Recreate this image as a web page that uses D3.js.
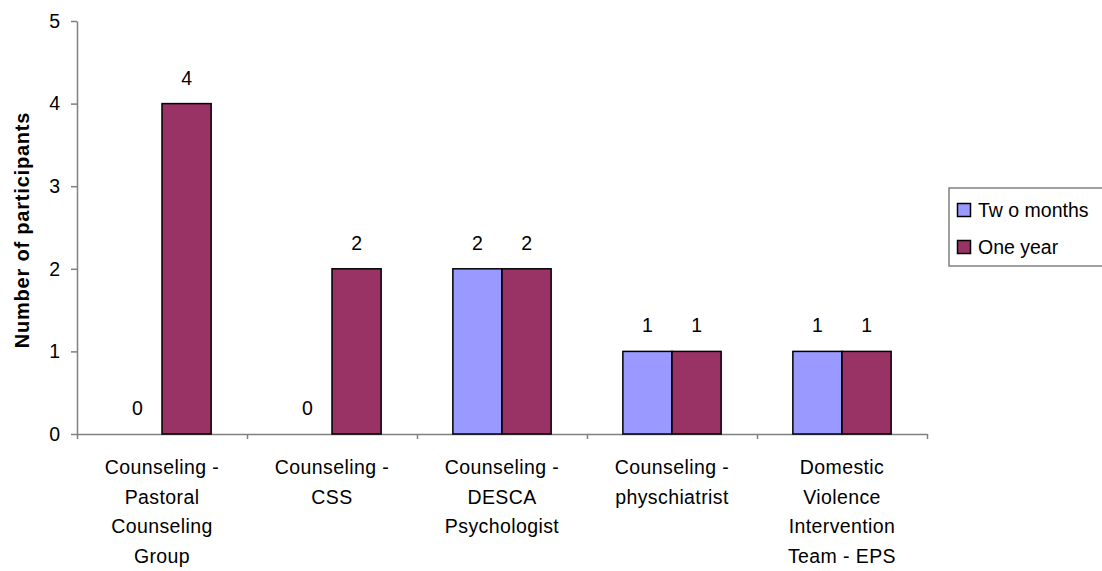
<!DOCTYPE html>
<html>
  <head>
    <script type="text/javascript" src="https://d3js.org/d3.v7.min.js"></script>
    <style>
      body { margin: 0; background: #fff; }
      svg { font-family: "Liberation Sans", Arial, sans-serif; }
    </style>
  </head>
  <body>
    <svg width="1102" height="571" id="svg1"></svg>

    <script>
      // chart data
      const categories = [
        "Counseling - Pastoral Counseling Group",
        "Counseling - CSS",
        "Counseling - DESCA Psychologist",
        "Counseling - physchiatrist",
        "Domestic Violence Intervention Team - EPS"
      ];
      const categoryLines = [
        ["Counseling -", "Pastoral", "Counseling", "Group"],
        ["Counseling -", "CSS"],
        ["Counseling -", "DESCA", "Psychologist"],
        ["Counseling -", "physchiatrist"],
        ["Domestic", "Violence", "Intervention", "Team - EPS"]
      ];
      const seriesNames = ["Tw o months", "One year"];
      const twoMonths = [0, 0, 2, 1, 1];
      const oneYear = [4, 2, 2, 1, 1];
      const yTicks = [0, 1, 2, 3, 4, 5];
      const colors = ["#9999FF", "#993366"];

      const values = [twoMonths, oneYear];
      const fontFam = "Liberation Sans, Arial, sans-serif";
      const svg = d3.select("#svg1");

      var x0 = d3.scaleBand().domain(categories).range([77, 927]).padding(0);
      var x1 = d3
        .scaleBand()
        .domain(seriesNames)
        .range([0, x0.bandwidth()])
        .paddingInner(0)
        .paddingOuter(0.73);
      var y = d3.scaleLinear().domain([0, 5]).range([434, 21]);

      // y axis
      var yAxis = svg
        .append("g")
        .attr("transform", "translate(77,0)")
        .call(
          d3
            .axisLeft(y)
            .tickValues(yTicks)
            .tickFormat(d3.format("d"))
            .tickSize(6)
            .tickPadding(11)
            .tickSizeOuter(0)
        );
      yAxis.select(".domain").attr("stroke", "#808080").attr("stroke-width", 1.5);
      yAxis.selectAll(".tick line").attr("stroke", "#808080").attr("stroke-width", 1.5);
      yAxis
        .selectAll(".tick text")
        .attr("font-size", 19.5)
        .attr("font-family", fontFam)
        .attr("fill", "#000");

      // x axis: ticks at category boundaries
      var xb = d3.scaleLinear().domain([0, categories.length]).range([77, 927]);
      var xAxis = svg
        .append("g")
        .attr("transform", "translate(0," + y(0) + ")")
        .call(
          d3
            .axisBottom(xb)
            .tickValues(d3.range(categories.length + 1))
            .tickSize(5)
            .tickSizeOuter(0)
            .tickFormat("")
        );
      xAxis.select(".domain").attr("stroke", "#808080").attr("stroke-width", 1.5);
      xAxis.selectAll(".tick line").attr("stroke", "#808080").attr("stroke-width", 1.5);

      // bars
      var groups = svg
        .append("g")
        .selectAll("g")
        .data(categories)
        .enter()
        .append("g")
        .attr("transform", (d) => "translate(" + x0(d) + ",0)");

      groups
        .selectAll("rect")
        .data((d, i) => seriesNames.map((s, j) => ({ s: s, j: j, v: values[j][i] })))
        .enter()
        .filter((d) => d.v > 0)
        .append("rect")
        .attr("x", (d) => x1(d.s))
        .attr("y", (d) => y(d.v))
        .attr("width", x1.bandwidth())
        .attr("height", (d) => y(0) - y(d.v))
        .attr("fill", (d) => colors[d.j])
        .attr("stroke", "#000")
        .attr("stroke-width", 1.5);

      // value labels
      groups
        .selectAll("text.val")
        .data((d, i) => seriesNames.map((s, j) => ({ s: s, j: j, v: values[j][i] })))
        .enter()
        .append("text")
        .attr("class", "val")
        .attr("x", (d) => x1(d.s) + x1.bandwidth() / 2)
        .attr("y", (d) => y(d.v) - 19)
        .attr("text-anchor", "middle")
        .attr("font-size", 19.5)
        .text((d) => d.v);

      // category labels
      groups
        .append("text")
        .attr("text-anchor", "middle")
        .attr("font-size", 19.5)
        .attr("letter-spacing", 0.4)
        .selectAll("tspan")
        .data((d, i) => categoryLines[i])
        .enter()
        .append("tspan")
        .attr("x", x0.bandwidth() / 2)
        .attr("y", (d, i) => 474 + i * 29.7)
        .text((d) => d);

      // y axis title
      svg
        .append("text")
        .attr("transform", "translate(29,230) rotate(-90)")
        .attr("text-anchor", "middle")
        .attr("font-size", 20)
        .attr("font-weight", "bold")
        .attr("letter-spacing", 0.8)
        .text("Number of participants");

      // legend
      var legend = svg.append("g").attr("transform", "translate(949,188)");
      legend
        .append("rect")
        .attr("x", 0)
        .attr("y", 0)
        .attr("width", 160)
        .attr("height", 78)
        .attr("fill", "#fff")
        .attr("stroke", "#808080")
        .attr("stroke-width", 1.5);
      legend
        .selectAll("rect.sw")
        .data(seriesNames)
        .enter()
        .append("rect")
        .attr("class", "sw")
        .attr("x", 8.5)
        .attr("y", (d, i) => 15.5 + i * 37)
        .attr("width", 13)
        .attr("height", 13)
        .attr("fill", (d, i) => colors[i])
        .attr("stroke", "#000")
        .attr("stroke-width", 1.5);
      legend
        .selectAll("text")
        .data(seriesNames)
        .enter()
        .append("text")
        .attr("x", 29)
        .attr("y", (d, i) => 29 + i * 37)
        .attr("font-size", 19.5)
        .text((d) => d);
    </script>
  </body>
</html>
